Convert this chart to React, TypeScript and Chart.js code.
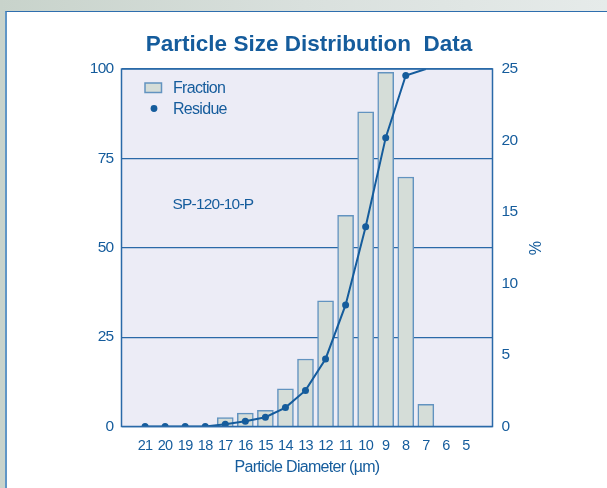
import React, { useEffect, useRef } from "react";
import { Chart, registerables } from "chart.js";

Chart.register(...registerables);

const diameters = [21, 20, 19, 18, 17, 16, 15, 14, 13, 12, 11, 10, 9, 8, 7, 6, 5];
const fractionDiam = [17, 16, 15, 14, 13, 12, 11, 10, 9, 8, 7];
const fractionPct = [0.62, 0.94, 1.13, 2.64, 4.72, 8.78, 14.77, 22.0, 24.77, 17.45, 1.55];
const residueDiam = [21, 20, 19, 18, 17, 16, 15, 14, 13, 12, 11, 10, 9, 8, 7];
const residueVal = [0, 0, 0, 0, 0.6, 1.45, 2.6, 5.3, 10.1, 18.9, 34.0, 55.9, 80.8, 98.2, 100];
const residueMarkerShown = [1, 1, 1, 1, 1, 1, 1, 1, 1, 1, 1, 1, 1, 1, 0];
const leftTicks = [0, 25, 50, 75, 100];
const rightTicks = [0, 5, 10, 15, 20, 25];
const titleText = "Particle Size Distribution  Data";
const xTitle = "Particle Diameter (\u00b5m)";
const yRightTitle = "%";
const sampleLabel = "SP-120-10-P";
const legendFraction = "Fraction";
const legendResidue = "Residue";

const SANS = "'Liberation Sans', Arial, Helvetica, sans-serif";
const BLUE = "#155c9c";
const GRID = "#2a69a8";
const BAR_FILL = "#d5ddd8";
const BAR_BORDER = "#6293c0";
const PLOT_BG = "#ececf6";

const decorPlugin = {
  id: "decor",
  beforeDraw(chart: any) {
    const { ctx, chartArea: a } = chart;
    ctx.save();
    ctx.fillStyle = PLOT_BG;
    ctx.fillRect(a.left, a.top, a.right - a.left, a.bottom - a.top);
    ctx.restore();
    (ctx as any).letterSpacing = "-0.7px";
  },
  afterDraw(chart: any) {
    const { ctx, chartArea: a } = chart;
    ctx.save();
    ctx.strokeStyle = GRID;
    ctx.lineWidth = 1.5;
    ctx.strokeRect(a.left, a.top, a.right - a.left, a.bottom - a.top);
    (ctx as any).letterSpacing = "0px";
    ctx.fillStyle = BLUE;
    ctx.font = "bold 22.5px " + SANS;
    ctx.textAlign = "center";
    ctx.textBaseline = "alphabetic";
    ctx.fillText(titleText, 309, 51);
    ctx.fillStyle = BAR_FILL;
    ctx.fillRect(145, 83, 16.5, 9.5);
    ctx.strokeStyle = BAR_BORDER;
    ctx.lineWidth = 1.5;
    ctx.strokeRect(145, 83, 16.5, 9.5);
    ctx.fillStyle = BLUE;
    ctx.beginPath();
    ctx.arc(154, 108.5, 3.4, 0, Math.PI * 2);
    ctx.fill();
    (ctx as any).letterSpacing = "-0.7px";
    ctx.font = "16px " + SANS;
    ctx.textAlign = "left";
    ctx.fillText(legendFraction, 173, 92.5);
    ctx.fillText(legendResidue, 173, 114);
    (ctx as any).letterSpacing = "-0.8px";
    ctx.font = "15.5px " + SANS;
    ctx.fillText(sampleLabel, 172.5, 208.5);
    ctx.restore();
    (ctx as any).letterSpacing = "0px";
  },
};

export default function App() {
  const ref = useRef<HTMLCanvasElement | null>(null);

  useEffect(() => {
    document.body.style.margin = "0";
    const canvas = ref.current!;
    const chart = new Chart(canvas, {
      type: "bar",
      data: {
        datasets: [
          {
            type: "line",
            label: legendResidue,
            data: residueDiam.map((d, i) => ({ x: d, y: residueVal[i] })),
            yAxisID: "y",
            borderColor: BLUE,
            backgroundColor: BLUE,
            borderWidth: 2,
            pointRadius: residueMarkerShown.map((s) => (s ? 3.5 : 0)),
            pointBackgroundColor: BLUE,
            pointBorderWidth: 0,
            tension: 0,
            order: 0,
          } as any,
          {
            type: "bar",
            label: legendFraction,
            data: fractionDiam.map((d, i) => ({ x: d, y: fractionPct[i] })),
            yAxisID: "y2",
            backgroundColor: BAR_FILL,
            borderColor: BAR_BORDER,
            borderWidth: 1.5,
            barThickness: 16,
            order: 1,
          } as any,
        ],
      },
      options: {
        animation: false,
        responsive: false,
        maintainAspectRatio: false,
        layout: { padding: { left: 0, right: 0, top: 69, bottom: 0 } },
        plugins: {
          legend: { display: false },
          title: { display: false },
          tooltip: { enabled: false },
        },
        scales: {
          x: {
            type: "linear",
            reverse: true,
            offset: false,
            min: 3.675,
            max: 22.175,
            afterBuildTicks: (s: any) => {
              s.ticks = diameters.map((v) => ({ value: v }));
            },
            afterFit: (s: any) => {
              s.height = 61.5;
            },
            grid: { display: false, drawTicks: false },
            border: { display: false },
            ticks: {
              color: BLUE,
              font: { family: SANS, size: 14.5 },
              padding: 11,
              autoSkip: false,
              maxRotation: 0,
              callback: (v: any) => String(v),
            },
            title: {
              display: true,
              text: xTitle,
              color: BLUE,
              font: { family: SANS, size: 16 },
              padding: { top: 0, bottom: 11 },
            },
          },
          y: {
            type: "linear",
            position: "left",
            min: 0,
            max: 100,
            afterBuildTicks: (s: any) => {
              s.ticks = leftTicks.map((v) => ({ value: v }));
            },
            afterFit: (s: any) => {
              s.width = 121.5;
            },
            grid: { color: GRID, lineWidth: 1.2, drawTicks: false },
            border: { display: false },
            ticks: {
              color: BLUE,
              font: { family: SANS, size: 15.5 },
              padding: 8,
            },
          },
          y2: {
            type: "linear",
            position: "right",
            min: 0,
            max: 25,
            afterBuildTicks: (s: any) => {
              s.ticks = rightTicks.map((v) => ({ value: v }));
            },
            afterFit: (s: any) => {
              s.width = 114.5;
            },
            grid: { display: false, drawTicks: false },
            border: { display: false },
            ticks: {
              color: BLUE,
              font: { family: SANS, size: 15.5 },
              padding: 9,
            },
            title: {
              display: true,
              text: yRightTitle,
              color: BLUE,
              font: { family: SANS, size: 16 },
              padding: { top: 64, bottom: 0 },
            },
          },
        },
      } as any,
      plugins: [decorPlugin],
    });
    return () => chart.destroy();
  }, []);

  return (
    <div
      style={{
        position: "absolute",
        left: 0,
        top: 0,
        width: 607,
        height: 488,
        overflow: "hidden",
        background: "linear-gradient(to right, #c8d3cb 0%, #d9e0dd 50%, #e6ebea 100%)",
      }}
    >
      <div
        style={{
          position: "absolute",
          left: 5,
          top: 11,
          width: 700,
          height: 600,
          background: "#ffffff",
          borderLeft: "2px solid #5f96c6",
          borderTop: "1.5px solid #2e6eae",
        }}
      />
      <canvas
        ref={ref}
        width={607}
        height={488}
        style={{ position: "absolute", left: 0, top: 0, width: 607, height: 488 }}
      />
    </div>
  );
}
